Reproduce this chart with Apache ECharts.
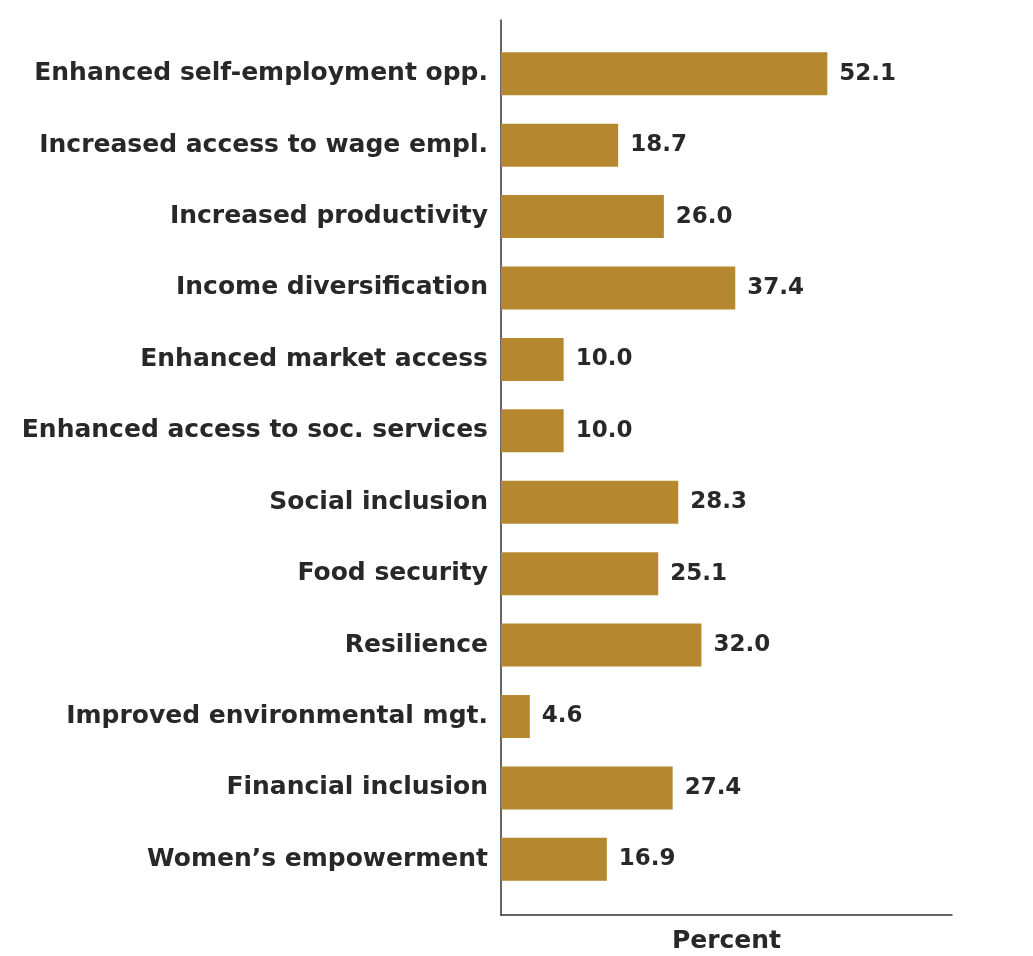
<!DOCTYPE html>
<html>
<head>
<meta charset="utf-8">
<script src="https://cdn.jsdelivr.net/npm/echarts@6/dist/echarts.min.js"></script>
<style>
  html, body { margin: 0; padding: 0; background: #ffffff; }
  #chart { width: 1033px; height: 956px; }
</style>
</head>
<body>
<div id="chart"></div>
<script>
// Outcome categories, top to bottom
const categories = [
  'Enhanced self-employment opp.',
  'Increased access to wage empl.',
  'Increased productivity',
  'Income diversification',
  'Enhanced market access',
  'Enhanced access to soc. services',
  'Social inclusion',
  'Food security',
  'Resilience',
  'Improved environmental mgt.',
  'Financial inclusion',
  'Women\u2019s empowerment'
];

// Share of programmes reporting each outcome (percent)
const values = [52.1, 18.7, 26.0, 37.4, 10.0, 10.0, 28.3, 25.1, 32.0, 4.6, 27.4, 16.9];

const axisName = 'Percent';
const xMax = 72;

const FONT = '"DejaVu Sans", "Open Sans", sans-serif';
const TEXT = '#282828';
const BAR = '#b5872f';

const chart = echarts.init(document.getElementById('chart'), null, { renderer: 'canvas' });

chart.setOption({
  backgroundColor: '#ffffff',
  animation: false,
  grid: [
    // bars and category labels
    { left: 501, right: 81, top: 38, bottom: 61, containLabel: false, outerBoundsMode: 'none' },
    // frame carrying the two axis lines, which run past the bars
    { left: 501, right: 81, top: 20, bottom: 41, containLabel: false, outerBoundsMode: 'none' }
  ],
  xAxis: [
    {
      gridIndex: 0, type: 'value', min: 0, max: xMax,
      axisLine: { show: false }, axisTick: { show: false },
      axisLabel: { show: false }, splitLine: { show: false }
    },
    {
      gridIndex: 1, type: 'value', min: 0, max: xMax,
      axisLine: { show: true, lineStyle: { color: '#333333', width: 1.5 } },
      axisTick: { show: false }, axisLabel: { show: false }, splitLine: { show: false },
      name: axisName, nameLocation: 'middle', nameGap: 14,
      nameTextStyle: { color: TEXT, fontFamily: FONT, fontWeight: 'bold', fontSize: 25 }
    }
  ],
  yAxis: [
    {
      gridIndex: 0, type: 'category', data: categories, inverse: true,
      axisLine: { show: false }, axisTick: { show: false },
      axisLabel: {
        color: TEXT, fontFamily: FONT, fontWeight: 'bold', fontSize: 25, margin: 13
      }
    },
    {
      gridIndex: 1, type: 'value', min: 0, max: 1,
      axisLine: { show: true, lineStyle: { color: '#333333', width: 1.5 } },
      axisTick: { show: false }, axisLabel: { show: false }, splitLine: { show: false }
    }
  ],
  series: [
    {
      type: 'bar',
      xAxisIndex: 0, yAxisIndex: 0,
      data: values,
      barWidth: 43,
      itemStyle: { color: BAR },
      label: {
        show: true, position: 'right', distance: 12,
        formatter: p => p.value.toFixed(1),
        color: TEXT, fontFamily: FONT, fontWeight: 'bold', fontSize: 23
      }
    }
  ]
});
</script>
</body>
</html>
